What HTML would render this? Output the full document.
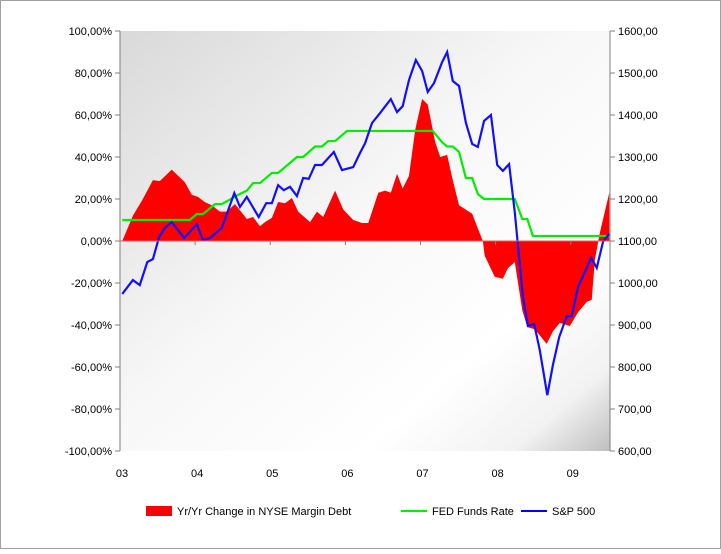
<!DOCTYPE html>
<html><head><meta charset="utf-8"><style>
body{margin:0;background:#fff;}
svg text{font-family:"Liberation Sans",sans-serif;font-size:11px;fill:#000;}
</style></head><body>
<svg id="chart" width="721" height="549" xmlns="http://www.w3.org/2000/svg">
<defs>
<linearGradient id="bg" x1="0" y1="0" x2="1" y2="1">
<stop offset="0" stop-color="#d9d9d9"/><stop offset="0.45" stop-color="#f7f7f7"/><stop offset="0.75" stop-color="#ffffff"/><stop offset="0.9" stop-color="#f2f2f2"/><stop offset="1" stop-color="#bfbfbf"/>
</linearGradient>
</defs>
<rect x="0.5" y="0.5" width="720" height="548" fill="#fff" stroke="#a0a0a0"/>
<rect x="120" y="31" width="490" height="420" fill="url(#bg)"/>
<g id="marks"></g>
<g id="axes"></g>
<g>
<rect x="146" y="506" width="26" height="10" fill="#ff0000"/>
<text x="177" y="515">Yr/Yr Change in NYSE Margin Debt</text>
<line x1="401" y1="511" x2="427" y2="511" stroke="#00ee00" stroke-width="2"/>
<text x="432" y="515">FED Funds Rate</text>
<line x1="521" y1="511" x2="547" y2="511" stroke="#0000ff" stroke-width="2"/>
<text x="552" y="515">S&amp;P 500</text>
</g>
</svg>
<script>
const yearLabels=["03","04","05","06","07","08","09"];
const leftTicks=[100,80,60,40,20,0,-20,-40,-60,-80,-100];
const rightTicks=[1600,1500,1400,1300,1200,1100,1000,900,800,700,600];
const marginMonths=[0.2,1.9,3.4,5.1,6.2,8.1,10.2,11.3,12.3,13.4,14.5,15.8,16.9,18.2,20.1,21.1,22.2,23,24.1,25.1,26.2,27.3,28.3,30.2,31.3,32.3,34.2,35.5,37.1,38.5,39.5,40.1,41.1,42.2,43.1,44.1,45,46,47,48.1,49,50.2,51,52.1,53,54,56.1,57,57.8,58.1,59.7,61,61.8,62.9,64.1,64.9,66.1,68,69,70.1,71.7,73,74.4,75.2,75.7,76.5,78];
const marginValues=[0,12,19.5,29,28.5,34,28,22,21,18.5,17,14,14,17.6,10.5,11.4,7,9,11,18.6,18,20.5,14,9,14,11.4,24,15,10,8.6,8.6,14,23,24,23,32,25,31,53,67.6,65,47,40,41,29,17,13,6,0,-7,-17,-18,-13,-10,-33,-41,-42,-49,-43,-39,-40.5,-34,-29,-28,-9,4,23];
const fedMonths=[0.2,11,12.1,13.1,15,16.1,19,20.1,21.1,22.2,24.1,25.1,28.1,29.1,31,32.1,33.1,34.2,36.1,49.8,51.3,52.1,53,54,55.1,56.1,57,58,62.9,64.1,64.9,65.8,78];
const fedValues=[10,10,12.8,12.8,17.6,17.6,22.4,24,27.6,27.6,32.4,32.4,40,40,45,45,47.6,47.6,52.4,52.4,47,45,45,42.4,30,30,22.4,20,20,10.5,10.5,2.4,2.4];
const spMonths=[0.2,1.9,3,4.2,5.1,6.1,7,8.1,10.1,12.1,13.1,14.2,16.1,18.1,19,20.1,22,23.2,24.1,25.1,26,27,28.1,29.1,30,31,32.1,34,35.3,37.1,38.2,39,40.1,41.4,43.1,44.1,45,46,47.1,48.1,49,50,51.3,52.1,53,54,55.1,56.1,57,58,59.1,60.1,61,62,62.9,64.2,65,66,66.9,68.1,69,70,71.2,72,73,74.1,75.1,76,77,78];
const spValues=[974,1007,995,1050,1057,1110,1131,1145,1107,1140,1102,1107,1131,1214,1181,1205,1157,1190,1190,1233,1221,1229,1207,1250,1248,1281,1281,1312,1269,1276,1310,1333,1381,1405,1438,1407,1421,1483,1531,1505,1455,1476,1526,1550,1481,1469,1381,1331,1324,1386,1400,1281,1267,1283,1169,967,898,902,840,733,805,871,921,921,990,1026,1060,1036,1098,1117];

const L=120,R=610,T=31,B=451;
const xS=m=>121+m*6.26;
const yL=v=>T+(100-v)/200*(B-T);
const yR=v=>T+(1600-v)/1000*(B-T);
const NS="http://www.w3.org/2000/svg";
function mk(tag,attrs,parent){const e=document.createElementNS(NS,tag);for(const k in attrs)e.setAttribute(k,attrs[k]);parent.appendChild(e);return e;}
const marks=document.getElementById('marks'),axes=document.getElementById('axes');

let d="M"+xS(marginMonths[0])+","+yL(0);
marginMonths.forEach((m,i)=>{d+=" L"+xS(m)+","+yL(marginValues[i]);});
d+=" L"+xS(marginMonths[marginMonths.length-1])+","+yL(0)+" Z";
const area=mk('path',{d:d,fill:'#ff0000'},marks);



const fedPts=fedMonths.map((m,i)=>xS(m)+","+yL(fedValues[i])).join(" ");
const fed=mk('polyline',{points:fedPts,fill:'none',stroke:'#00ee00','stroke-width':2.2},marks);



const spPts=spMonths.map((m,i)=>xS(m)+","+yR(spValues[i])).join(" ");
const sp=mk('polyline',{points:spPts,fill:'none',stroke:'#1010ff','stroke-width':2.2},marks);



const la=mk('line',{x1:L,y1:T,x2:L,y2:B,stroke:'#808080'},axes);


const ra=mk('line',{x1:R,y1:T,x2:R,y2:B,stroke:'#808080'},axes);


const za=mk('line',{x1:L,y1:yL(0),x2:R,y2:yL(0),stroke:'#e06060','stroke-width':1},axes);



leftTicks.forEach(v=>{
  const y=yL(v);
  mk('line',{x1:L-5,y1:y,x2:L,y2:y,stroke:'#808080'},axes);
  const t=mk('text',{x:L-8,y:y+4,'text-anchor':'end'},axes);
  t.textContent=v.toFixed(2).replace('.',',')+'%';
  
  
});
rightTicks.forEach(v=>{
  const y=yR(v);
  mk('line',{x1:R,y1:y,x2:R+5,y2:y,stroke:'#808080'},axes);
  const t=mk('text',{x:R+8,y:y+4},axes);
  t.textContent=v.toFixed(2).replace('.',',');
  
  
});
yearLabels.forEach((s,i)=>{
  const x=xS(i*12)-1;
  mk('line',{x1:x,y1:yL(0),x2:x,y2:yL(0)+4,stroke:'#808080'},axes);
  const t=mk('text',{x:x+2,y:477,'text-anchor':'middle'},axes);
  t.textContent=s;
  
  
});
</script>
</body></html>
